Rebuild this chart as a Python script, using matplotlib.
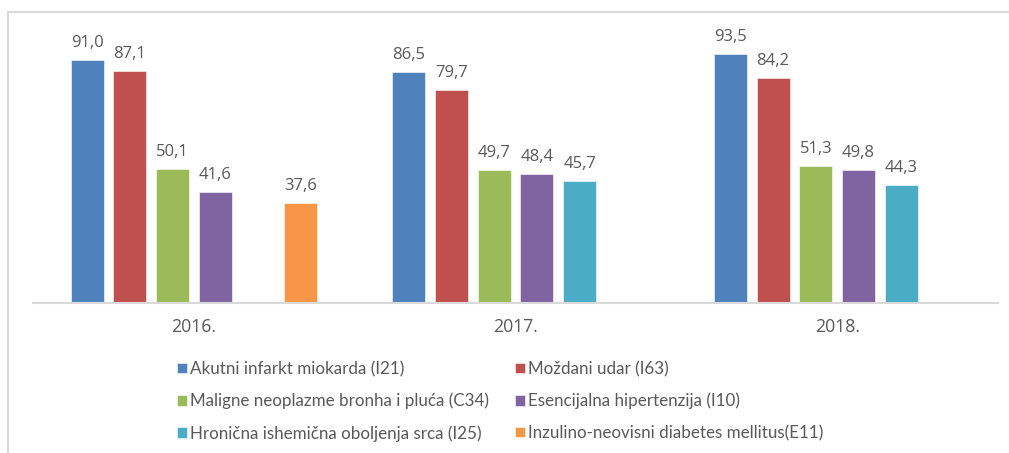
import numpy as np
import matplotlib.pyplot as plt
from matplotlib.patches import Rectangle

# podaci
years = ['2016.', '2017.', '2018.']
akutni = [91.0, 86.5, 93.5]
mozdani = [87.1, 79.7, 84.2]
maligne = [50.1, 49.7, 51.3]
esencijalna = [41.6, 48.4, 49.8]
hronicna = [np.nan, 45.7, 44.3]
inzulino = [37.6, np.nan, np.nan]

series_names = ['Akutni infarkt miokarda (I21)',
                'Moždani udar (I63)',
                'Maligne neoplazme bronha i pluća (C34)',
                'Esencijalna hipertenzija (I10)',
                'Hronična ishemična oboljenja srca (I25)',
                'Inzulino-neovisni diabetes mellitus(E11)']
series_values = [akutni, mozdani, maligne, esencijalna, hronicna, inzulino]
colors = ['#4F81BD', '#C0504D', '#9BBB59', '#8064A2', '#4BACC6', '#F79646']

W, H = 1009, 453
fig = plt.figure(figsize=(W / 100, H / 100), dpi=100)
ax = fig.add_axes([33 / W, (H - 303) / H, 965 / W, 266.7 / H])

x = np.arange(len(years))
step = 0.1328
width = 0.1026
handles = []
for i, (name, vals, c) in enumerate(zip(series_names, series_values, colors)):
    pos = x + (i - 2.5) * step
    vals = np.array(vals, dtype=float)
    ok = ~np.isnan(vals)
    b = ax.bar(pos[ok], vals[ok], width, color=c, edgecolor='white', linewidth=0.4, label=name)
    handles.append(b)
    for px, v in zip(pos[ok], vals[ok]):
        ax.annotate(('%.1f' % v).replace('.', ','), (px, v), xytext=(0, 6.5),
                    textcoords='offset points', ha='center', va='bottom',
                    fontsize=12, color='#595959', family='Open Sans')

ax.set_xlim(-0.5, 2.5)
ax.set_ylim(0, 100)
ax.set_xticks(x)
ax.set_xticklabels(years, fontsize=12.7, color='#595959', family='Open Sans')
ax.tick_params(axis='x', length=0, pad=11)
ax.set_yticks([])
for s in ['top', 'left', 'right']:
    ax.spines[s].set_visible(False)
ax.spines['bottom'].set_color('#D9D9D9')
ax.spines['bottom'].set_linewidth(1.5)

# okvir
fig.patches.append(Rectangle((8 / W, -0.1), 1.2, (H - 12) / H + 0.1,
                             transform=fig.transFigure, fill=False,
                             edgecolor='#D9D9D9', linewidth=1.5))

# legenda u dvije kolone
for cols, x0 in [([0, 2, 4], 177), ([1, 3, 5], 515)]:
    leg = fig.legend([handles[i] for i in cols], [series_names[i] for i in cols],
                     loc='upper left', bbox_to_anchor=(x0 / W, (H - 361) / H),
                     frameon=False, borderpad=0, borderaxespad=0,
                     handlelength=0.56, handleheight=0.56, handletextpad=0.2,
                     labelspacing=0.92, prop={'family': 'Lato', 'size': 12.25})
    for t in leg.get_texts():
        t.set_color('#595959')

plt.savefig('out.png', dpi=100)
